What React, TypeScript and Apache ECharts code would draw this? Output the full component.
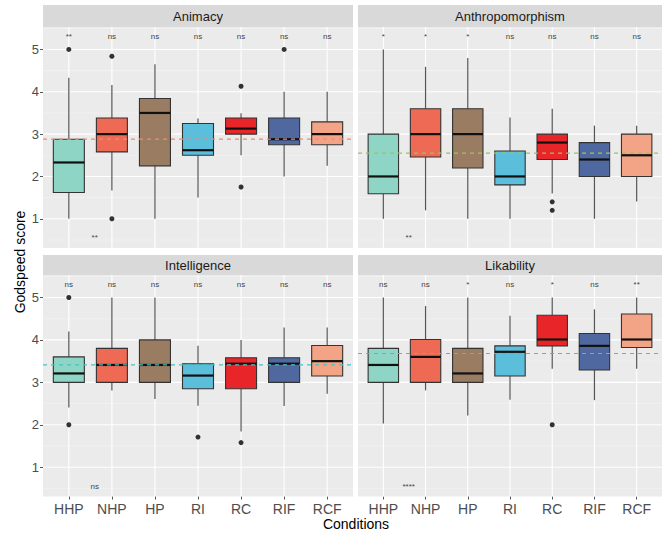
import React, { useEffect, useRef } from "react";
import * as echarts from "echarts";

const conditions = ["HHP", "NHP", "HP", "RI", "RC", "RIF", "RCF"];
const panelNames = ["Animacy", "Anthropomorphism", "Intelligence", "Likability"];
const boxColors = ["#8fd5c5", "#ef6a55", "#9a7c63", "#5bbfdc", "#e8262a", "#5068a0", "#f4a486"];
const meanColors = ["#ef8a74", "#9cc45a", "#3fc6c6", "#a488f0"];

// [lower whisker, Q1, median, Q3, upper whisker]
const animacyBoxes = [
  [1.0, 1.62, 2.33, 2.88, 4.33],
  [1.67, 2.58, 3.0, 3.38, 4.16],
  [1.0, 2.25, 3.5, 3.84, 4.65],
  [1.5, 2.5, 2.62, 3.25, 3.37],
  [2.5, 3.0, 3.13, 3.38, 3.49],
  [2.0, 2.75, 2.88, 3.38, 4.0],
  [2.25, 2.75, 3.0, 3.29, 4.0],
];
const anthroBoxes = [
  [1.0, 1.59, 2.0, 3.0, 5.0],
  [1.2, 2.46, 3.0, 3.6, 4.59],
  [1.0, 2.2, 3.0, 3.6, 4.8],
  [1.0, 1.8, 2.0, 2.6, 3.39],
  [1.6, 2.4, 2.8, 3.0, 3.6],
  [1.0, 2.0, 2.4, 2.8, 3.2],
  [1.41, 2.0, 2.5, 3.0, 3.2],
];
const intelBoxes = [
  [2.41, 3.0, 3.21, 3.6, 4.2],
  [2.81, 3.0, 3.41, 3.8, 5.0],
  [2.61, 3.0, 3.41, 4.0, 5.0],
  [2.45, 2.85, 3.16, 3.44, 3.86],
  [1.84, 2.85, 3.44, 3.58, 4.0],
  [2.44, 3.0, 3.44, 3.58, 4.29],
  [2.73, 3.15, 3.5, 3.87, 4.29],
];
const likeBoxes = [
  [2.03, 3.0, 3.41, 3.8, 5.0],
  [2.81, 3.0, 3.6, 4.01, 4.8],
  [2.22, 3.0, 3.21, 3.8, 5.0],
  [2.59, 3.15, 3.72, 3.86, 4.57],
  [3.32, 3.86, 4.01, 4.58, 5.0],
  [2.58, 3.29, 3.86, 4.15, 4.72],
  [3.32, 3.82, 4.01, 4.61, 5.0],
];

// [condition position (1-based), value]
const animacyOutliers = [[1, 5.0], [2, 4.84], [2, 1.0], [5, 4.13], [5, 1.75], [6, 5.0]];
const anthroOutliers = [[5, 1.4], [5, 1.2]];
const intelOutliers = [[1, 5.0], [1, 2.0], [4, 1.71], [5, 1.58]];
const likeOutliers = [[5, 2.0]];

const means = [2.88, 2.55, 3.41, 3.68];

const animacySig = ["**", "ns", "ns", "ns", "ns", "ns", "ns"];
const anthroSig = ["*", "*", "*", "ns", "ns", "ns", "ns"];
const intelSig = ["ns", "ns", "ns", "ns", "ns", "ns", "ns"];
const likeSig = ["ns", "ns", "*", "ns", "*", "ns", "**"];
const overallSig = ["**", "**", "ns", "****"];

const yTicks = [1, 2, 3, 4, 5];
const yMinor = [0.5, 1.5, 2.5, 3.5, 4.5, 5.5];
const xTicks = [1, 2, 3, 4, 5, 6, 7];

const allBoxes = [animacyBoxes, anthroBoxes, intelBoxes, likeBoxes];
const allOutliers = [animacyOutliers, anthroOutliers, intelOutliers, likeOutliers];
const allSig = [animacySig, anthroSig, intelSig, likeSig];

const FONT = "Liberation Sans, Arial, sans-serif";
const Y_MIN = 0.31;
const Y_MAX = 5.53;
const X_MIN = 0.4;
const X_MAX = 7.6;
const SIG_TOP = 5.3;
const SIG_BOTTOM = 0.55;
const SIG_BOTTOM_X = 1.6;

export default function App() {
  const ref = useRef<HTMLDivElement>(null);
  useEffect(() => {
    if (!ref.current) return;
    const chart = echarts.init(ref.current, null, { renderer: "svg" });

    const gridPos = [
      { left: 43, top: 27, width: 310, height: 221 },
      { left: 358, top: 27, width: 310, height: 221 },
      { left: 43, top: 275, width: 310, height: 221.5 },
      { left: 358, top: 275, width: 310, height: 221.5 },
    ];

    const grids = gridPos.map((g) => ({
      ...g,
      show: true,
      backgroundColor: "#ebebeb",
      borderWidth: 0,
      containLabel: false,
    }));

    const xAxes = gridPos.map((_, i) => ({
      type: "value",
      gridIndex: i,
      min: X_MIN,
      max: X_MAX,
      axisLine: { show: false },
      splitLine: { show: false },
      axisTick: {
        show: i >= 2,
        customValues: xTicks,
        length: 3,
        lineStyle: { color: "#555", width: 1 },
      },
      axisLabel: {
        show: i >= 2,
        customValues: xTicks,
        formatter: (v: number) => conditions[Math.round(v) - 1] ?? "",
        color: "#4d4d4d",
        fontSize: 14,
        fontFamily: FONT,
        margin: 5,
      },
    }));

    const yAxes = gridPos.map((_, i) => ({
      type: "value",
      gridIndex: i,
      min: Y_MIN,
      max: Y_MAX,
      axisLine: { show: false },
      splitLine: { show: false },
      axisTick: {
        show: i % 2 === 0,
        customValues: yTicks,
        length: 3,
        lineStyle: { color: "#555", width: 1 },
      },
      axisLabel: {
        show: i % 2 === 0,
        customValues: yTicks,
        color: "#4d4d4d",
        fontSize: 13,
        fontFamily: FONT,
        margin: 4,
      },
    }));

    const series: any[] = [];
    for (let p = 0; p < 4; p++) {
      // gridlines
      const gridItems: number[][] = [];
      yMinor.forEach((v) => gridItems.push([0, v]));
      yTicks.forEach((v) => gridItems.push([1, v]));
      xTicks.forEach((v) => gridItems.push([2, v]));
      series.push({
        type: "custom",
        xAxisIndex: p,
        yAxisIndex: p,
        z: 1,
        silent: true,
        data: gridItems,
        renderItem: (params: any, api: any) => {
          const kind = api.value(0);
          const v = api.value(1);
          if (kind === 2) {
            const a = api.coord([v, Y_MIN]);
            const b = api.coord([v, Y_MAX]);
            return {
              type: "line",
              shape: { x1: a[0], y1: a[1], x2: b[0], y2: b[1] },
              style: { stroke: "#ffffff", lineWidth: 1.1 },
            };
          }
          const a = api.coord([X_MIN, v]);
          const b = api.coord([X_MAX, v]);
          return {
            type: "line",
            shape: { x1: a[0], y1: a[1], x2: b[0], y2: b[1] },
            style: { stroke: kind === 1 ? "#ffffff" : "#f5f5f5", lineWidth: kind === 1 ? 1.1 : 0.6 },
          };
        },
      });

      // boxes
      const boxData = allBoxes[p].map((b, i) => [i + 1, ...b]);
      series.push({
        type: "custom",
        xAxisIndex: p,
        yAxisIndex: p,
        z: 2,
        data: boxData,
        encode: { x: 0, y: [1, 2, 3, 4, 5] },
        renderItem: (params: any, api: any) => {
          const x = api.value(0);
          const lo = api.value(1);
          const q1 = api.value(2);
          const med = api.value(3);
          const q3 = api.value(4);
          const hi = api.value(5);
          const hw = 0.36;
          const pLo = api.coord([x, lo]);
          const pHi = api.coord([x, hi]);
          const pQ1L = api.coord([x - hw, q1]);
          const pQ3R = api.coord([x + hw, q3]);
          const pMedL = api.coord([x - hw, med]);
          const pMedR = api.coord([x + hw, med]);
          const pQ1 = api.coord([x, q1]);
          const pQ3 = api.coord([x, q3]);
          const color = boxColors[params.dataIndex];
          return {
            type: "group",
            children: [
              {
                type: "line",
                shape: { x1: pHi[0], y1: pHi[1], x2: pQ3[0], y2: pQ3[1] },
                style: { stroke: "#555555", lineWidth: 1.2 },
              },
              {
                type: "line",
                shape: { x1: pQ1[0], y1: pQ1[1], x2: pLo[0], y2: pLo[1] },
                style: { stroke: "#555555", lineWidth: 1.2 },
              },
              {
                type: "rect",
                shape: {
                  x: pQ1L[0],
                  y: pQ3R[1],
                  width: pQ3R[0] - pQ1L[0],
                  height: pQ1L[1] - pQ3R[1],
                },
                style: { fill: color, stroke: "#333333", lineWidth: 1.1 },
              },
              {
                type: "line",
                shape: { x1: pMedL[0], y1: pMedL[1], x2: pMedR[0], y2: pMedR[1] },
                style: { stroke: "#111111", lineWidth: 2.2 },
              },
            ],
          };
        },
      });

      // mean line
      series.push({
        type: "custom",
        xAxisIndex: p,
        yAxisIndex: p,
        z: 3,
        silent: true,
        data: [[means[p]]],
        renderItem: (params: any, api: any) => {
          const m = api.value(0);
          const a = api.coord([X_MIN, m]);
          const b = api.coord([X_MAX, m]);
          return {
            type: "line",
            shape: { x1: a[0], y1: a[1], x2: b[0], y2: b[1] },
            style: { stroke: meanColors[p], lineWidth: 1.2, lineDash: [4, 4] },
          };
        },
      });

      // outliers
      series.push({
        type: "scatter",
        xAxisIndex: p,
        yAxisIndex: p,
        z: 4,
        symbol: "circle",
        symbolSize: 5,
        itemStyle: { color: "#000000" },
        data: allOutliers[p],
      });

      // significance labels
      const sigData = allSig[p].map((s, i) => [i + 1, SIG_TOP, s]);
      sigData.push([SIG_BOTTOM_X, SIG_BOTTOM, overallSig[p]]);
      series.push({
        type: "custom",
        xAxisIndex: p,
        yAxisIndex: p,
        z: 5,
        silent: true,
        data: sigData,
        renderItem: (params: any, api: any) => {
          const pt = api.coord([api.value(0), api.value(1)]);
          return {
            type: "text",
            x: pt[0],
            y: pt[1],
            style: {
              text: sigData[params.dataIndex][2] as string,
              fill: "#444444",
              fontSize: 8,
              fontFamily: FONT,
              align: "center",
              verticalAlign: "middle",
            },
          };
        },
      });
    }

    const strips = [
      { x: 43, y: 5, w: 310, h: 22 },
      { x: 358, y: 5, w: 310, h: 22 },
      { x: 43, y: 255, w: 310, h: 20 },
      { x: 358, y: 255, w: 310, h: 20 },
    ];
    const graphic: any[] = [];
    strips.forEach((s, i) => {
      graphic.push({
        type: "rect",
        left: s.x,
        top: s.y,
        shape: { width: s.w, height: s.h },
        style: { fill: "#d9d9d9" },
        silent: true,
      });
      graphic.push({
        type: "text",
        x: s.x + (i % 2 === 0 ? s.w : 304) / 2,
        y: s.y + s.h / 2,
        style: {
          text: panelNames[i],
          fill: "#1a1a1a",
          fontSize: 13,
          fontFamily: FONT,
          align: "center",
          verticalAlign: "middle",
        },
      });
    });
    graphic.push({
      type: "text",
      x: 356,
      y: 524,
      style: {
        text: "Conditions",
        fill: "#000000",
        fontSize: 14,
        fontFamily: FONT,
        align: "center",
        verticalAlign: "middle",
      },
    });
    graphic.push({
      type: "text",
      x: 20,
      y: 262,
      rotation: Math.PI / 2,
      style: {
        text: "Godspeed score",
        fill: "#000000",
        fontSize: 14,
        fontFamily: FONT,
        align: "center",
        verticalAlign: "middle",
      },
    });

    chart.setOption({
      animation: false,
      backgroundColor: "#ffffff",
      grid: grids,
      xAxis: xAxes,
      yAxis: yAxes,
      series,
      graphic,
    });
    return () => chart.dispose();
  }, []);

  return (
    <div
      ref={ref}
      style={{ position: "fixed", left: 0, top: 0, width: 662, height: 538 }}
    />
  );
}
